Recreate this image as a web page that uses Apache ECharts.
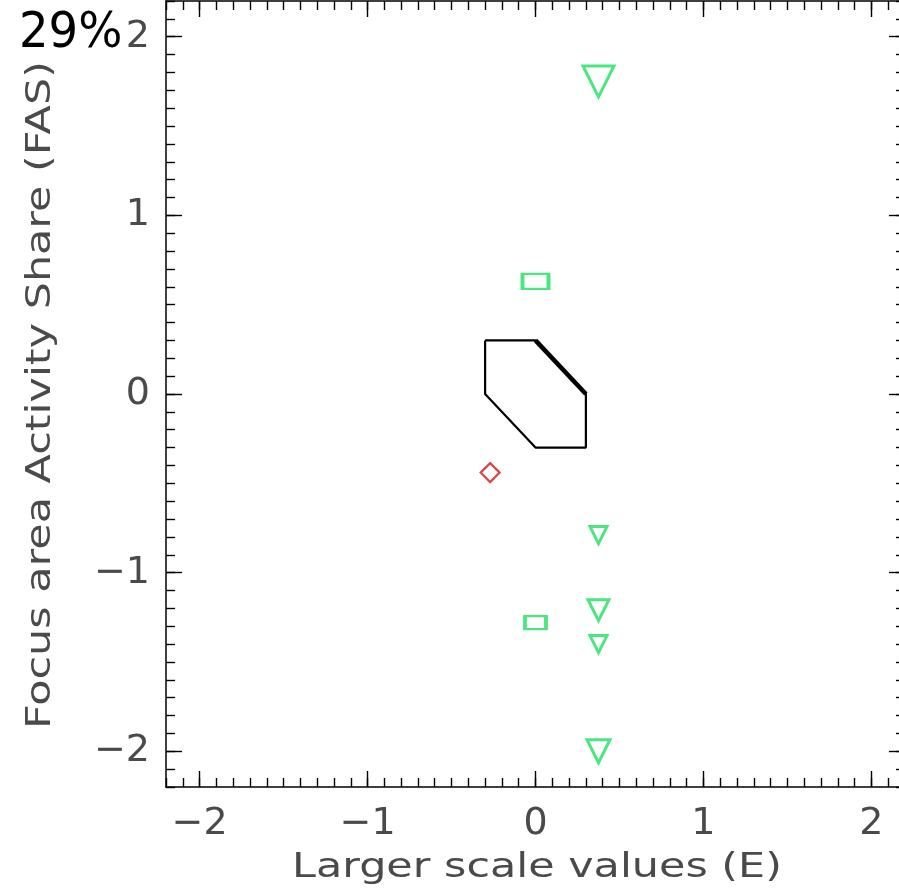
<!DOCTYPE html>
<html>
<head>
<meta charset="utf-8">
<script src="https://cdn.jsdelivr.net/npm/echarts@6/dist/echarts.min.js"></script>
<style>
  html, body { margin: 0; padding: 0; background: #fff; }
  #chart { width: 899px; height: 893px; }
</style>
</head>
<body>
<div id="chart"></div>
<script>
// Axis ranges and tick labels
const xRange = [-2.2, 2.2];
const yRange = [-2.2, 2.2];
const xMajorTicks = [-2, -1, 0, 1, 2];
const yMajorTicks = [-2, -1, 0, 1, 2];
const minorStep = 0.1;

// Reference region (hexagon outline) vertices, E vs FAS
const regionX = [-0.3, 0, 0.3, 0.3, 0, -0.3, -0.3];
const regionY = [0.3, 0.3, 0, -0.3, -0.3, 0, 0.3];
// emphasised edge of the region
const edgeX = [0, 0.3];
const edgeY = [0.3, 0];

// Green downward triangles
const triX = [0.375, 0.375, 0.375, 0.375, 0.375];
const triY = [1.75, -0.79, -1.21, -1.40, -2.00];
const triWeight = [31, 17, 21, 17, 23];

// Green rectangles
const rectX = [0, 0];
const rectY = [0.63, -1.28];
const rectWeight = [[26, 15], [21, 13]];

// Red diamond
const diaX = [-0.27];
const diaY = [-0.44];

const shareText = '29%';
const xTitle = 'Larger scale values (E)';
const yTitle = 'Focus area Activity Share (FAS)';

const fontFam = '"DejaVu Sans", "Liberation Sans", sans-serif';
const textCol = '#4a4a4a';
const green = '#1fe060';
const red = '#cc1a1a';

function minusFmt(v) { return String(v).replace('-', '\u2212'); }

// axis carrying the long ticks at whole units
function majorAxis(pos, range, ticks) {
  return {
    type: 'value', position: pos, min: range[0], max: range[1],
    axisLine: { show: true, onZero: false, lineStyle: { color: '#000', width: 1.5 } },
    axisTick: { show: true, inside: true, length: 16, customValues: ticks,
                lineStyle: { color: '#000', width: 1.4 } },
    axisLabel: { show: false },
    splitLine: { show: false }
  };
}
// axis carrying the short ticks every tenth of a unit
function minorAxis(pos, range) {
  return {
    type: 'value', position: pos, min: range[0], max: range[1], interval: minorStep,
    axisLine: { show: false, onZero: false },
    axisTick: { show: true, inside: true, length: 9,
                lineStyle: { color: '#000', width: 1.4 } },
    axisLabel: { show: false },
    splitLine: { show: false }
  };
}

const xLabelAxis = majorAxis('bottom', xRange, xMajorTicks);
xLabelAxis.axisLabel = { show: true, customValues: xMajorTicks, formatter: minusFmt,
  fontFamily: fontFam, fontSize: 38, color: textCol, margin: 18 };
const yLabelAxis = majorAxis('left', yRange, yMajorTicks);
yLabelAxis.axisLabel = { show: true, customValues: yMajorTicks, formatter: minusFmt,
  fontFamily: fontFam, fontSize: 38, color: textCol, margin: 16 };

const chart = echarts.init(document.getElementById('chart'), null, { renderer: 'canvas' });

const hollow = (c, w) => ({ color: 'rgba(0,0,0,0)', borderColor: c, borderWidth: w });

chart.setOption({
  animation: false,
  backgroundColor: '#fff',
  grid: { left: 166, top: 1, width: 739, height: 786, containLabel: false, outerBoundsMode: 'none' },
  xAxis: [
    xLabelAxis,
    minorAxis('bottom', xRange),
    majorAxis('top', xRange, xMajorTicks),
    minorAxis('top', xRange)
  ],
  yAxis: [
    yLabelAxis,
    minorAxis('left', yRange),
    majorAxis('right', yRange, yMajorTicks),
    minorAxis('right', yRange)
  ],
  graphic: [
    {
      type: 'text', x: 19, y: 34, scaleX: 0.93,
      style: { text: shareText, fontFamily: fontFam, fontSize: 50, fill: '#000',
               align: 'left', verticalAlign: 'middle' }
    },
    {
      type: 'text', x: 537, y: 868, scaleX: 1.3,
      style: { text: xTitle, fontFamily: fontFam, fontSize: 33, fill: textCol,
               align: 'center', verticalAlign: 'middle' }
    },
    {
      type: 'text', x: 41, y: 395, rotation: Math.PI / 2, scaleX: 1.3,
      style: { text: yTitle, fontFamily: fontFam, fontSize: 33, fill: textCol,
               align: 'center', verticalAlign: 'middle' }
    }
  ],
  series: [
    {
      type: 'line', xAxisIndex: 0, yAxisIndex: 0, symbol: 'none', silent: true,
      data: regionX.map((x, i) => [x, regionY[i]]),
      lineStyle: { color: '#000', width: 2.2 }
    },
    {
      type: 'line', xAxisIndex: 0, yAxisIndex: 0, symbol: 'none', silent: true,
      data: edgeX.map((x, i) => [x, edgeY[i]]),
      lineStyle: { color: '#000', width: 4.5 }
    },
    {
      type: 'scatter', xAxisIndex: 0, yAxisIndex: 0, silent: true,
      symbol: 'triangle', symbolRotate: 180,
      data: triX.map((x, i) => ({ value: [x, triY[i]], symbolSize: triWeight[i] })),
      itemStyle: hollow(green, 3)
    },
    {
      type: 'scatter', xAxisIndex: 0, yAxisIndex: 0, silent: true,
      symbol: 'rect',
      data: rectX.map((x, i) => ({ value: [x, rectY[i]], symbolSize: rectWeight[i] })),
      itemStyle: hollow(green, 3)
    },
    {
      type: 'scatter', xAxisIndex: 0, yAxisIndex: 0, silent: true,
      symbol: 'diamond', symbolSize: 19,
      data: diaX.map((x, i) => [x, diaY[i]]),
      itemStyle: hollow(red, 2.2)
    }
  ]
});
</script>
</body>
</html>
